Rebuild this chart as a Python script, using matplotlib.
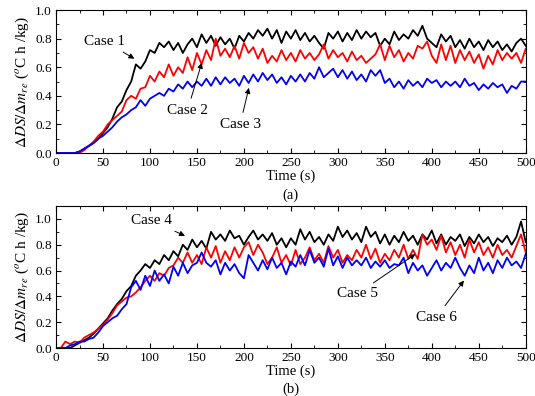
import numpy as np
import matplotlib
matplotlib.use("Agg")
import matplotlib.pyplot as plt
from matplotlib.ticker import MultipleLocator

plt.rcParams['font.family'] = ['Liberation Serif', 'DejaVu Serif']
plt.rcParams['mathtext.fontset'] = 'stix'

# time axis (s)
time = np.arange(0, 501, 5)

# panel (a)
case1 = [0, 0, 0, 0, 0, 0.01, 0.03, 0.05, 0.07, 0.10,
         0.14, 0.18, 0.24, 0.32, 0.36, 0.44, 0.50, 0.62, 0.59, 0.64,
         0.72, 0.70, 0.77, 0.74, 0.78, 0.72, 0.77, 0.70, 0.76, 0.80,
         0.74, 0.83, 0.77, 0.82, 0.75, 0.81, 0.76, 0.80, 0.73, 0.82,
         0.78, 0.84, 0.80, 0.86, 0.82, 0.87, 0.80, 0.86, 0.77, 0.85,
         0.80, 0.86, 0.79, 0.84, 0.78, 0.82, 0.77, 0.73, 0.84, 0.80,
         0.85, 0.78, 0.84, 0.79, 0.86, 0.80, 0.85, 0.81, 0.84, 0.75,
         0.80, 0.76, 0.85, 0.79, 0.83, 0.80, 0.86, 0.82, 0.89, 0.80,
         0.77, 0.74, 0.83, 0.78, 0.82, 0.74, 0.79, 0.73, 0.80, 0.74,
         0.78, 0.72, 0.79, 0.74, 0.78, 0.72, 0.76, 0.71, 0.77, 0.80,
         0.75]
case2 = [0, 0, 0, 0, 0, 0.0, 0.02, 0.05, 0.08, 0.12,
         0.15, 0.20, 0.23, 0.26, 0.29, 0.37, 0.40, 0.38, 0.45, 0.46,
         0.54, 0.50, 0.57, 0.53, 0.62, 0.54, 0.60, 0.56, 0.67, 0.58,
         0.70, 0.62, 0.72, 0.65, 0.80, 0.68, 0.73, 0.67, 0.75, 0.66,
         0.77, 0.70, 0.74, 0.66, 0.73, 0.63, 0.68, 0.64, 0.72, 0.65,
         0.70, 0.64, 0.72, 0.66, 0.70, 0.65, 0.69, 0.76, 0.66, 0.72,
         0.67, 0.70, 0.64, 0.71, 0.65, 0.68, 0.63, 0.66, 0.69, 0.76,
         0.65, 0.75, 0.67, 0.72, 0.64, 0.70, 0.66, 0.75, 0.73, 0.78,
         0.68, 0.63, 0.76, 0.65, 0.75, 0.63, 0.72, 0.65, 0.71, 0.63,
         0.69, 0.59, 0.68, 0.62, 0.72, 0.65, 0.70, 0.66, 0.70, 0.63,
         0.73]
case3 = [0, 0, 0, 0, 0, 0.01, 0.03, 0.05, 0.07, 0.10,
         0.12, 0.15, 0.18, 0.22, 0.25, 0.27, 0.30, 0.32, 0.37, 0.33,
         0.38, 0.40, 0.42, 0.40, 0.45, 0.43, 0.48, 0.45, 0.50, 0.46,
         0.50, 0.47, 0.52, 0.47, 0.53, 0.48, 0.53, 0.49, 0.52, 0.47,
         0.54, 0.49, 0.55, 0.50, 0.56, 0.51, 0.55, 0.49, 0.53, 0.48,
         0.54, 0.50, 0.55, 0.50, 0.56, 0.52, 0.60, 0.53, 0.56, 0.59,
         0.53, 0.58, 0.52, 0.57, 0.51, 0.55, 0.50, 0.58, 0.54, 0.58,
         0.49, 0.52, 0.46, 0.50, 0.45, 0.51, 0.47, 0.50, 0.46, 0.52,
         0.49, 0.51, 0.46, 0.50, 0.47, 0.50, 0.46, 0.52, 0.47, 0.49,
         0.44, 0.48, 0.45, 0.49, 0.46, 0.48, 0.42, 0.47, 0.45, 0.50,
         0.50]

# panel (b)
case4 = [0, 0, 0, 0, 0.02, 0.04, 0.06, 0.08, 0.11, 0.15,
         0.19, 0.23, 0.29, 0.34, 0.38, 0.44, 0.48, 0.56, 0.60, 0.65,
         0.62, 0.68, 0.65, 0.72, 0.68, 0.75, 0.71, 0.80, 0.76, 0.84,
         0.78, 0.83, 0.77, 0.90, 0.84, 0.88, 0.83, 0.91, 0.85, 0.87,
         0.80, 0.86, 0.91, 0.84, 0.88, 0.83, 0.89, 0.80, 0.85, 0.78,
         0.85, 0.80, 0.92, 0.84, 0.90, 0.82, 0.86, 0.80, 0.88, 0.83,
         0.94, 0.86, 0.91, 0.84, 0.89, 0.82, 0.94, 0.86, 0.90, 0.81,
         0.88, 0.80, 0.87, 0.82, 0.90, 0.83, 0.87, 0.80, 0.88, 0.84,
         0.91, 0.81, 0.88, 0.80, 0.86, 0.83, 0.88, 0.79, 0.86, 0.81,
         0.88, 0.82, 0.86, 0.79, 0.85, 0.82, 0.87, 0.80, 0.86, 0.98,
         0.82]
case5 = [0, 0, 0.05, 0.03, 0.05, 0.04, 0.08, 0.10, 0.12, 0.15,
         0.18, 0.22, 0.27, 0.33, 0.36, 0.39, 0.40, 0.43, 0.47, 0.52,
         0.56, 0.52, 0.58, 0.56, 0.62, 0.64, 0.70, 0.66, 0.74, 0.66,
         0.72, 0.65, 0.78, 0.70, 0.79, 0.66, 0.75, 0.68, 0.78, 0.70,
         0.78, 0.82, 0.72, 0.80, 0.74, 0.65, 0.70, 0.78, 0.66, 0.72,
         0.64, 0.76, 0.65, 0.70, 0.78, 0.68, 0.73, 0.66, 0.79, 0.70,
         0.76, 0.66, 0.72, 0.68, 0.76, 0.70, 0.80, 0.69, 0.77, 0.66,
         0.73, 0.68, 0.76, 0.70, 0.80, 0.69, 0.76, 0.69, 0.88, 0.80,
         0.84, 0.76, 0.87, 0.74, 0.82, 0.72, 0.80, 0.70, 0.84, 0.74,
         0.82, 0.72, 0.78, 0.70, 0.80, 0.72, 0.76, 0.70, 0.79, 0.88,
         0.74]
case6 = [0, 0, 0, 0.02, 0.03, 0.05, 0.05, 0.07, 0.08, 0.12,
         0.17, 0.20, 0.23, 0.25, 0.30, 0.34, 0.47, 0.52, 0.45, 0.56,
         0.48, 0.60, 0.52, 0.57, 0.50, 0.63, 0.56, 0.66, 0.58, 0.64,
         0.66, 0.74, 0.66, 0.63, 0.68, 0.57, 0.66, 0.60, 0.65, 0.58,
         0.54, 0.72, 0.66, 0.60, 0.68, 0.61, 0.70, 0.62, 0.66, 0.57,
         0.67, 0.63, 0.72, 0.64, 0.76, 0.66, 0.70, 0.63, 0.77, 0.64,
         0.71, 0.62, 0.70, 0.64, 0.68, 0.64, 0.70, 0.62, 0.67, 0.63,
         0.68, 0.62, 0.65, 0.64, 0.70, 0.58, 0.66, 0.60, 0.64, 0.56,
         0.62, 0.68, 0.60, 0.66, 0.62, 0.70, 0.62, 0.56, 0.64, 0.58,
         0.70, 0.60, 0.66, 0.58, 0.68, 0.62, 0.70, 0.64, 0.67, 0.62,
         0.73]

ylab = r'$\Delta DS/\Delta m_{re}$ ($^o$C h /kg)'

fig = plt.figure(figsize=(5.35, 3.96), dpi=100)
ax1 = fig.add_axes([0.1047, 0.6136, 0.878, 0.361])
ax2 = fig.add_axes([0.1047, 0.1212, 0.878, 0.3586])

arrow = dict(arrowstyle='-|>', color='black', lw=0.7, mutation_scale=8)

def style(ax, ymax):
    ax.set_xlim(0, 500)
    ax.set_ylim(0, ymax)
    ax.xaxis.set_major_locator(MultipleLocator(50))
    ax.xaxis.set_minor_locator(MultipleLocator(25))
    ax.yaxis.set_major_locator(MultipleLocator(0.2))
    ax.yaxis.set_minor_locator(MultipleLocator(0.1))
    ax.yaxis.set_major_formatter(matplotlib.ticker.FormatStrFormatter('%.1f'))
    ax.tick_params(which='both', direction='in', top=True, right=True, labelsize=9.5)
    ax.tick_params(which='major', length=3.5, pad=3)
    ax.tick_params(which='minor', length=2)
    ax.set_xlabel('Time (s)', fontsize=10.5, labelpad=0)
    ax.set_ylabel(ylab, fontsize=11, labelpad=3)

ax1.plot(time, case1, color='black', lw=1.3)
ax1.plot(time, case2, color='red', lw=1.3)
ax1.plot(time, case3, color='blue', lw=1.3)
style(ax1, 1.0)
ax1.annotate('Case 1', xy=(86, 0.65), xytext=(52, 0.78), fontsize=11,
             ha='center', va='center', arrowprops=arrow)
ax1.annotate('Case 2', xy=(156, 0.65), xytext=(140, 0.30), fontsize=11,
             ha='center', va='center', arrowprops=arrow)
ax1.annotate('Case 3', xy=(206, 0.475), xytext=(196, 0.20), fontsize=11,
             ha='center', va='center', arrowprops=arrow)

ax2.plot(time, case4, color='black', lw=1.3)
ax2.plot(time, case5, color='red', lw=1.3)
ax2.plot(time, case6, color='blue', lw=1.3)
style(ax2, 1.1)
ax2.annotate('Case 4', xy=(140, 0.86), xytext=(102, 0.985), fontsize=11,
             ha='center', va='center', arrowprops=arrow)
ax2.annotate('Case 5', xy=(385, 0.74), xytext=(321, 0.42), fontsize=11,
             ha='center', va='center', arrowprops=arrow)
ax2.annotate('Case 6', xy=(436, 0.54), xytext=(405, 0.24), fontsize=11,
             ha='center', va='center', arrowprops=arrow)

fig.text(0.543, 1 - 195 / 396, '(a)', fontsize=10.5, ha='center', va='center')
fig.text(0.543, 1 - 389 / 396, '(b)', fontsize=10.5, ha='center', va='center')

fig.savefig('out.png', dpi=100)
